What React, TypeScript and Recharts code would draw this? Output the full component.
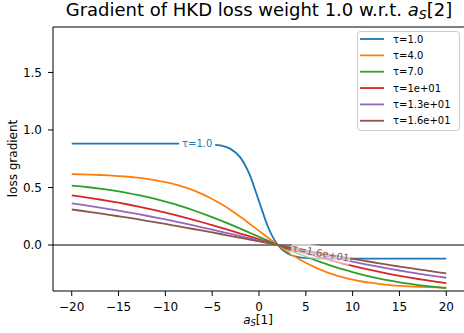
import { LineChart, Line, XAxis, YAxis, ReferenceLine, ReferenceDot } from "recharts";

const xValues = [
  -20, -19, -18, -17, -16, -15, -14, -13, -12, -11, -10, -9, -8, -7, -6, -5, -4, -3, -2, -1, 0,
  1, 2, 3, 4, 5, 6, 7, 8, 9, 10, 11, 12, 13, 14, 15, 16, 17, 18, 19, 20,
];

const tau1 = [
  0.8808, 0.8808, 0.8808, 0.8808, 0.8808, 0.8808, 0.8808, 0.8808, 0.8808, 0.8808, 0.8808, 0.8808,
  0.8805, 0.8799, 0.8783, 0.8741, 0.8628, 0.8334, 0.7616, 0.6119, 0.3808,
  0.1497, 0.0, -0.0718, -0.1012, -0.1125, -0.1168, -0.1183, -0.1189, -0.1192, -0.1192, -0.1192,
  -0.1192, -0.1192, -0.1192, -0.1192, -0.1192, -0.1192, -0.1192, -0.1192, -0.1192,
];
const tau4 = [
  0.6158, 0.6139, 0.6115, 0.6084, 0.6045, 0.5995, 0.5932, 0.5851, 0.575, 0.5624, 0.5466, 0.5271,
  0.5033, 0.4744, 0.44, 0.3998, 0.3535, 0.3016, 0.2449, 0.1846, 0.1225,
  0.0603, 0.0, -0.0567, -0.1086, -0.1548, -0.1951, -0.2295, -0.2583, -0.2822, -0.3017, -0.3175,
  -0.3301, -0.3402, -0.3482, -0.3546, -0.3596, -0.3635, -0.3666, -0.369, -0.3709,
];
const tau7 = [
  0.5166, 0.5088, 0.4999, 0.4899, 0.4786, 0.466, 0.4518, 0.4359, 0.4184, 0.3989, 0.3776, 0.3544,
  0.3292, 0.302, 0.273, 0.2423, 0.2101, 0.1765, 0.1419, 0.1066, 0.071,
  0.0353, 0.0, -0.0346, -0.0682, -0.1004, -0.1311, -0.1601, -0.1873, -0.2125, -0.2357, -0.257,
  -0.2765, -0.294, -0.3099, -0.3241, -0.3367, -0.348, -0.358, -0.3669, -0.3747,
];
const tau10 = [
  0.4306, 0.4197, 0.408, 0.3954, 0.3819, 0.3674, 0.352, 0.3357, 0.3184, 0.3001, 0.2809, 0.2608,
  0.2398, 0.218, 0.1955, 0.1723, 0.1485, 0.1243, 0.0997, 0.0748, 0.0498,
  0.0249, 0.0, -0.0246, -0.0489, -0.0726, -0.0958, -0.1184, -0.1401, -0.1611, -0.1812, -0.2004,
  -0.2187, -0.236, -0.2524, -0.2677, -0.2822, -0.2957, -0.3083, -0.3201, -0.331,
];
const tau13 = [
  0.3616, 0.3501, 0.3381, 0.3255, 0.3124, 0.2986, 0.2843, 0.2695, 0.2541, 0.2382, 0.2217, 0.2049,
  0.1876, 0.1699, 0.1518, 0.1334, 0.1147, 0.0958, 0.0768, 0.0576, 0.0384,
  0.0192, 0.0, -0.0191, -0.0379, -0.0566, -0.075, -0.0931, -0.1108, -0.1281, -0.145, -0.1614,
  -0.1773, -0.1927, -0.2075, -0.2218, -0.2356, -0.2487, -0.2613, -0.2734, -0.2849,
];
const tau16 = [
  0.3085, 0.2975, 0.2861, 0.2744, 0.2623, 0.2498, 0.237, 0.2239, 0.2104, 0.1966, 0.1826, 0.1682,
  0.1537, 0.1389, 0.1239, 0.1087, 0.0934, 0.078, 0.0624, 0.0468, 0.0312,
  0.0156, 0.0, -0.0155, -0.031, -0.0463, -0.0615, -0.0765, -0.0913, -0.1058, -0.1202, -0.1342,
  -0.148, -0.1614, -0.1746, -0.1874, -0.1999, -0.212, -0.2237, -0.2351, -0.2461,
];

const seriesNames = ["τ=1.0", "τ=4.0", "τ=7.0", "τ=1e+01", "τ=1.3e+01", "τ=1.6e+01"];
const seriesColors = ["#1f77b4", "#ff7f0e", "#2ca02c", "#d62728", "#9467bd", "#8c564b"];
const seriesValues = [tau1, tau4, tau7, tau10, tau13, tau16];

const xTicks = [-20, -15, -10, -5, 0, 5, 10, 15, 20];
const yTicks = [0, 0.5, 1.0, 1.5];

const X_MIN = -22;
const X_MAX = 22;
const Y_MIN = -0.4;
const Y_MAX = 1.895;

const FONT = "DejaVu Sans";

const data = xValues.map((x, i) => {
  const row: any = { x };
  seriesValues.forEach((vals, k) => {
    row["s" + k] = vals[i];
  });
  return row;
});

function BlueLabel(props: any) {
  const { cx, cy } = props;
  return (
    <g>
      <rect x={cx - 18} y={cy - 7} width={36} height={14} fill="#fff" />
      <text x={cx} y={cy} textAnchor="middle" dominantBaseline="central" fontSize={10} fontFamily={FONT} fill={seriesColors[0]}>
        {seriesNames[0]}
      </text>
    </g>
  );
}

function BrownLabel(props: any) {
  const { cx, cy } = props;
  return (
    <g transform={`rotate(10.5 ${cx} ${cy})`}>
      <rect x={cx - 30} y={cy - 7} width={60} height={14} fill="#fff" fillOpacity={0.6} />
      <text x={cx} y={cy} textAnchor="middle" dominantBaseline="central" fontSize={10} fontFamily={FONT} fill={seriesColors[5]}>
        {seriesNames[5]}
      </text>
    </g>
  );
}

const fmtX = (v: number) => (v < 0 ? `\u2212${-v}` : `${v}`);

export default function App() {
  return (
    <div style={{ position: "absolute", left: 0, top: 0, width: 464, height: 333, overflow: "hidden", background: "#fff" }}>
      <LineChart width={470} height={333} data={data} margin={{ top: 27, right: 5, bottom: 0, left: 0 }}>
        <XAxis
          type="number"
          dataKey="x"
          domain={[X_MIN, X_MAX]}
          ticks={xTicks}
          tickFormatter={fmtX}
          allowDataOverflow
          height={42}
          tickSize={5}
          tickMargin={6}
          axisLine={{ stroke: "#000" }}
          tickLine={{ stroke: "#000" }}
          tick={{ fill: "#000", fontSize: 12, fontFamily: FONT }}
        />
        <YAxis
          type="number"
          domain={[Y_MIN, Y_MAX]}
          ticks={yTicks}
          tickFormatter={(v: number) => v.toFixed(1)}
          allowDataOverflow
          width={53}
          tickSize={5}
          tickMargin={6}
          axisLine={{ stroke: "#000" }}
          tickLine={{ stroke: "#000" }}
          tick={{ fill: "#000", fontSize: 12, fontFamily: FONT }}
        />
        <ReferenceLine y={Y_MAX} stroke="#000" />
        <ReferenceLine x={X_MAX} stroke="#000" />
        <ReferenceLine y={0} stroke="#808080" strokeWidth={1.8} />
        {seriesValues.map((_, k) => (
          <Line
            key={k}
            type="monotone"
            dataKey={"s" + k}
            stroke={seriesColors[k]}
            strokeWidth={1.8}
            dot={false}
            isAnimationActive={false}
          />
        ))}
        <ReferenceDot x={-6.6} y={0.8808} r={0} shape={BlueLabel} />
        <ReferenceDot x={6.6} y={-0.0705} r={0} shape={BrownLabel} />
      </LineChart>
      <svg width={464} height={333} style={{ position: "absolute", left: 0, top: 0, pointerEvents: "none" }}>
        <text x={259} y={16} textAnchor="middle" fontSize={18} fontFamily={FONT} fill="#000">
          Gradient of HKD loss weight 1.0 w.r.t.{" "}
          <tspan fontStyle="italic">a</tspan>
          <tspan fontStyle="italic" fontSize={12.6} dy={3}>S</tspan>
          <tspan dy={-3}>[2]</tspan>
        </text>
        <text x={258} y={323.5} textAnchor="middle" fontSize={12} fontFamily={FONT} fill="#000">
          <tspan fontStyle="italic">a</tspan>
          <tspan fontStyle="italic" fontSize={8.4} dy={2}>S</tspan>
          <tspan dy={-2}>[1]</tspan>
        </text>
        <text x={17} y={158.5} textAnchor="middle" fontSize={12} fontFamily={FONT} fill="#000" transform="rotate(-90 17 158.5)">
          loss gradient
        </text>
        <rect x={357.5} y={31.5} width={102} height={99} rx={3} fill="#fff" fillOpacity={0.8} stroke="#cccccc" />
        {seriesNames.map((name, k) => {
          const y = 39 + k * 16.35;
          return (
            <g key={k}>
              <line x1={360} x2={384} y1={y} y2={y} stroke={seriesColors[k]} strokeWidth={1.8} />
              <text x={393} y={y} dominantBaseline="central" fontSize={10} fontFamily={FONT} fill="#000">
                {name}
              </text>
            </g>
          );
        })}
      </svg>
    </div>
  );
}
